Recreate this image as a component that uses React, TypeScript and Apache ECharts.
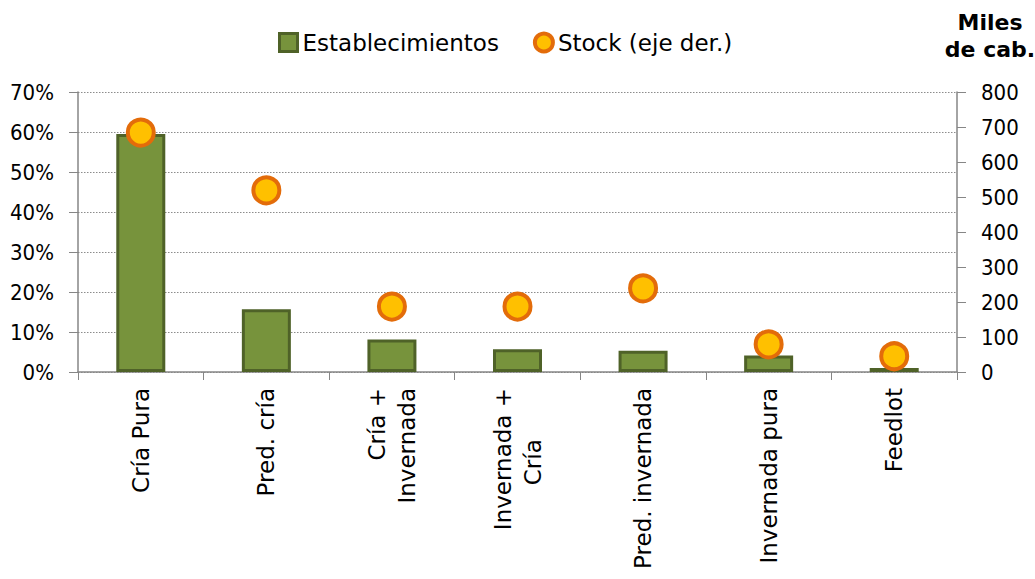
import React, { useEffect, useRef } from "react";
import * as echarts from "echarts";

const categories = [
  "Cría Pura",
  "Pred. cría",
  "Cría +\nInvernada",
  "Invernada +\nCría\u00a0\u00a0\u00a0\u00a0\u00a0\u00a0\u00a0",
  "Pred. invernada",
  "Invernada pura",
  "Feedlot",
];
const establecimientos = [59.5, 15.7, 8.1, 5.7, 5.3, 4.1, 1.0];
const stock = [684, 519, 187, 187, 239, 79, 45];
const leftTicks = { min: 0, max: 70, interval: 10 };
const rightTicks = { min: 0, max: 800, interval: 100 };

const AXIS_COLOR = "#868686";

export default function App() {
  const ref = useRef<HTMLDivElement>(null);
  useEffect(() => {
    if (!ref.current) return;
    const chart = echarts.init(ref.current, null, { renderer: "svg" });
    chart.setOption({
      animation: false,
      backgroundColor: "#ffffff",
      grid: { left: 78, right: 78, top: 92, bottom: 207, containLabel: false },
      legend: {
        left: 273,
        top: 26,
        itemWidth: 18,
        itemHeight: 18,
        itemGap: 34,
        itemTextGap: 5,
        textStyle: { fontFamily: "DejaVu Sans", fontSize: 23, color: "#000" },
        data: [
          {
            name: "Establecimientos",
            icon: "rect",
            itemStyle: { color: "#77933C", borderColor: "#4F6228", borderWidth: 3 },
          },
          {
            name: "Stock (eje der.)",
            icon: "circle",
            itemStyle: { color: "#FFC000", borderColor: "#E36C0A", borderWidth: 4 },
          },
        ],
      },
      graphic: [
        {
          type: "text",
          x: 990,
          y: 9,
          style: {
            text: "Miles\nde cab.",
            fontFamily: "DejaVu Sans",
            fontWeight: "bold",
            fontSize: 22,
            lineHeight: 27,
            textAlign: "center",
            fill: "#000",
          },
        },
      ],
      xAxis: {
        type: "category",
        data: categories,
        boundaryGap: true,
        axisLine: { show: true, lineStyle: { color: AXIS_COLOR, width: 1.5 } },
        axisTick: { show: true, length: 8, alignWithLabel: false, lineStyle: { color: AXIS_COLOR } },
        axisLabel: {
          rotate: 90,
          interval: 0,
          margin: 16,
          fontFamily: "DejaVu Sans",
          fontSize: 23,
          lineHeight: 30,
          color: "#000",
        },
      },
      yAxis: [
        {
          type: "value",
          min: leftTicks.min,
          max: leftTicks.max,
          interval: leftTicks.interval,
          axisLine: { show: true, lineStyle: { color: AXIS_COLOR, width: 1.5 } },
          axisTick: { show: true, length: 9, lineStyle: { color: AXIS_COLOR } },
          axisLabel: {
            formatter: "{value}%",
            margin: 24,
            fontFamily: "DejaVu Sans Condensed, DejaVu Sans",
            fontSize: 22,
            color: "#000",
          },
          splitLine: {
            show: true,
            lineStyle: { color: "#8c8c8c", width: 1, type: [1.5, 1.5] },
          },
        },
        {
          type: "value",
          position: "right",
          min: rightTicks.min,
          max: rightTicks.max,
          interval: rightTicks.interval,
          axisLine: { show: true, lineStyle: { color: AXIS_COLOR, width: 1.5 } },
          axisTick: { show: true, length: 9, lineStyle: { color: AXIS_COLOR } },
          axisLabel: {
            margin: 24,
            fontFamily: "DejaVu Sans Condensed, DejaVu Sans",
            fontSize: 22,
            color: "#000",
          },
          splitLine: { show: false },
        },
      ],
      series: [
        {
          name: "Establecimientos",
          type: "bar",
          yAxisIndex: 0,
          data: establecimientos,
          barWidth: 49,
          itemStyle: { color: "#77933C", borderColor: "#4F6228", borderWidth: 3 },
        },
        {
          name: "Stock (eje der.)",
          type: "scatter",
          yAxisIndex: 1,
          data: stock,
          symbol: "circle",
          symbolSize: 26,
          itemStyle: { color: "#FFC000", borderColor: "#E36C0A", borderWidth: 4, opacity: 1 },
          z: 5,
        },
      ],
    });
    return () => chart.dispose();
  }, []);
  return (
    <div
      ref={ref}
      style={{ position: "absolute", left: 0, top: 0, width: 1035, height: 579 }}
    />
  );
}
